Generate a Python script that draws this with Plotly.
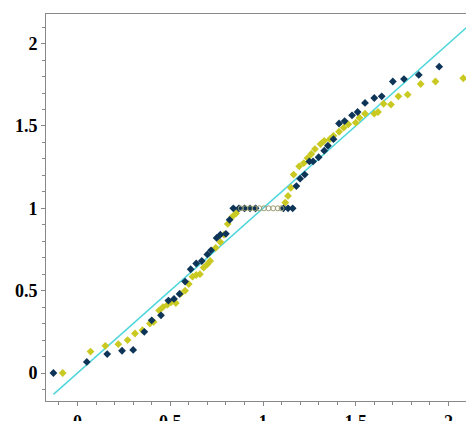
import plotly.graph_objects as go

blue_x = [-0.13, 0.05, 0.16, 0.24, 0.30, 0.36, 0.40, 0.45, 0.49, 0.52, 0.55, 0.58, 0.61, 0.64, 0.67,
          0.70, 0.72, 0.75, 0.77, 0.80, 0.82, 0.84, 0.87, 0.90, 0.93, 0.96, 1.11, 1.135, 1.16,
          1.18, 1.20, 1.225, 1.25, 1.27, 1.30, 1.33, 1.35, 1.38, 1.41, 1.44, 1.48, 1.51, 1.55,
          1.60, 1.64, 1.70, 1.76, 1.84, 1.95, 2.13]
blue_y = [0, 0.067, 0.115, 0.135, 0.14, 0.25, 0.32, 0.35, 0.44, 0.45, 0.48, 0.555, 0.63, 0.665, 0.68,
          0.72, 0.745, 0.82, 0.84, 0.845, 0.93, 1, 1, 1, 1, 1, 1, 1, 1,
          1.135, 1.18, 1.205, 1.285, 1.285, 1.31, 1.35, 1.38, 1.42, 1.515, 1.53, 1.565, 1.585, 1.64,
          1.67, 1.68, 1.77, 1.785, 1.81, 1.86, 1.90]

yellow_x = [-0.08, 0.07, 0.15, 0.22, 0.27, 0.31, 0.35, 0.39, 0.41, 0.44, 0.46, 0.485, 0.505, 0.53,
            0.555, 0.58, 0.60, 0.62, 0.64, 0.66, 0.68, 0.70, 0.715, 0.745, 0.77, 0.79, 0.81, 0.835,
            0.855, 1.12, 1.135, 1.15, 1.165, 1.195, 1.22, 1.24, 1.26, 1.28, 1.31, 1.33, 1.36, 1.38,
            1.41, 1.435, 1.46, 1.50, 1.52, 1.55, 1.60, 1.62, 1.65, 1.69, 1.73, 1.78, 1.85, 1.93, 2.08]
yellow_y = [0, 0.13, 0.165, 0.175, 0.2, 0.24, 0.26, 0.30, 0.31, 0.38, 0.40, 0.415, 0.43, 0.425,
            0.48, 0.50, 0.54, 0.585, 0.595, 0.60, 0.64, 0.66, 0.68, 0.76, 0.795, 0.84, 0.905, 0.95,
            0.97, 1.035, 1.075, 1.125, 1.205, 1.255, 1.275, 1.305, 1.33, 1.36, 1.39, 1.41, 1.42, 1.44,
            1.465, 1.49, 1.51, 1.52, 1.55, 1.575, 1.575, 1.585, 1.635, 1.63, 1.68, 1.69, 1.755, 1.77, 1.79]

hollow_x = [0.88, 0.905, 0.93, 0.955, 0.98, 1.005, 1.03, 1.055, 1.08, 1.10]
hollow_y = [1] * len(hollow_x)

line_x = [-0.13, 2.13]
line_y = [-0.13, 2.13]

fig = go.Figure()
fig.add_trace(go.Scatter(x=line_x, y=line_y, mode="lines",
                         line=dict(color="#4fd6dc", width=1.5)))
fig.add_trace(go.Scatter(x=yellow_x, y=yellow_y, mode="markers",
                         marker=dict(symbol="diamond", size=6, color="#c9c921")))
fig.add_trace(go.Scatter(x=blue_x, y=blue_y, mode="markers",
                         marker=dict(symbol="diamond", size=6, color="#0e3557")))
fig.add_trace(go.Scatter(x=hollow_x, y=hollow_y, mode="markers",
                         marker=dict(symbol="circle-open", size=5, color="#9a9a70",
                                     line=dict(width=1))))

axis = dict(range=[-0.17, 2.17], showgrid=False, zeroline=False, showline=True,
            linecolor="#888", mirror=True, ticks="outside", ticklen=4, tickcolor="#888",
            automargin=False,
            tickvals=[0, 0.5, 1, 1.5, 2], ticktext=["0", "0.5", "1", "1.5", "2"],
            minor=dict(dtick=0.1, ticks="outside", ticklen=3, tickcolor="#888"),
            tickfont=dict(family="Liberation Serif", size=18, color="black", weight="bold"))

fig.update_layout(
    width=474, height=421, showlegend=False,
    plot_bgcolor="white", paper_bgcolor="white",
    margin=dict(l=38, r=2, t=6, b=28),
    xaxis=axis,
    yaxis=dict(axis, range=[-0.17, 2.18]),
)

fig.write_html("out.html")
